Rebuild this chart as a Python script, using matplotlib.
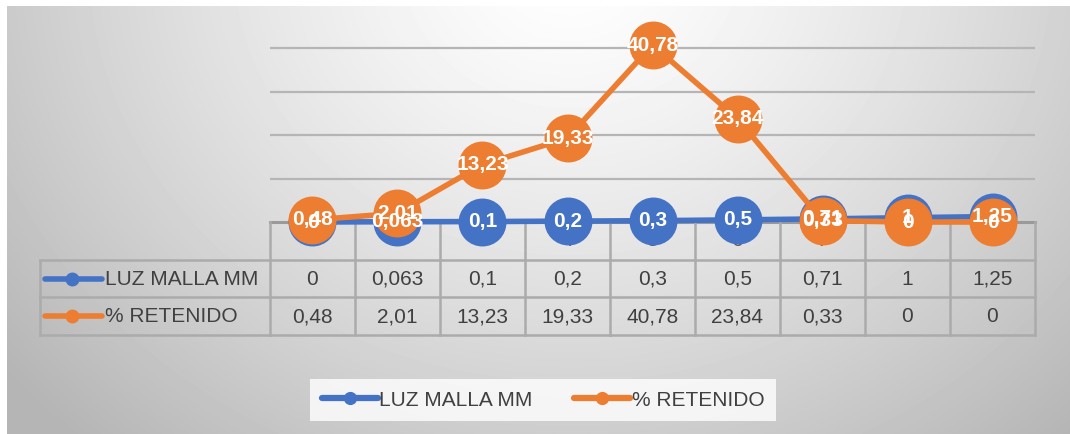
import matplotlib.pyplot as plt
import numpy as np
from matplotlib.lines import Line2D

categories = ['1', '2', '3', '4', '5', '6', '7', '8', '9']
luz_malla = [0, 0.063, 0.1, 0.2, 0.3, 0.5, 0.71, 1, 1.25]
retenido = [0.48, 2.01, 13.23, 19.33, 40.78, 23.84, 0.33, 0, 0]
series_names = ['LUZ MALLA MM', '% RETENIDO']
grid_values = [10, 20, 30, 40]

blue = '#4472C4'
orange = '#ED7D31'
text_color = '#404040'
line_gray = '#ababab'

W, H = 1070, 434
fig = plt.figure(figsize=(W / 100, H / 100), dpi=100)
fig.patch.set_facecolor('white')


def fx(px):
    return px / W


def fy(py):
    return 1 - py / H


def fmt(v):
    return f'{v:g}'.replace('.', ',')


# chart area background (radial gradient, white at top centre)
bg = fig.add_axes([fx(7), 0, 1 - fx(7), fy(6)])
yy, xx = np.mgrid[6:H, 7:W]
r = np.sqrt(((xx - 570) / 640.0) ** 2 + ((yy + 40) / 560.0) ** 2)
shade = 255 - 62 * np.clip(r, 0, 1.15) ** 1.3
bg.imshow(shade, cmap='gray', vmin=0, vmax=255, aspect='auto',
          interpolation='bilinear')
bg.axis('off')

# data table
tab = fig.add_axes([fx(40), fy(335), fx(995), 113 / H])
tab.set_xlim(-3.2, 8.5)
tab.set_ylim(3, 0)
tab.axis('off')
n = len(categories)
for yv in [1, 2, 3]:
    tab.plot([-3.2, n - 0.5], [yv, yv], color=line_gray, lw=1.8, clip_on=False)
tab.plot([-0.5, n - 0.5], [0, 0], color='#9a9a9a', lw=2.2, clip_on=False)
tab.plot([-3.2, -3.2], [1, 3], color=line_gray, lw=1.8, clip_on=False)
for k in range(n + 1):
    tab.plot([k - 0.5, k - 0.5], [0, 3], color=line_gray, lw=1.8, clip_on=False)

for i, c in enumerate(categories):
    tab.text(i, 0.5, c, ha='center', va='center', fontsize=15,
             color='#595959', family='Liberation Sans')
    tab.text(i, 1.52, fmt(luz_malla[i]), ha='center', va='center',
             fontsize=15, color=text_color, family='Liberation Sans')
    tab.text(i, 2.52, fmt(retenido[i]), ha='center', va='center',
             fontsize=15, color=text_color, family='Liberation Sans')

for row, (name, col) in enumerate(zip(series_names, [blue, orange])):
    yv = row + 1.5
    tab.plot([-3.14, -2.47], [yv, yv], color=col, lw=4, solid_capstyle='round')
    tab.plot([-2.82], [yv], 'o', color=col, ms=9)
    tab.text(-2.44, yv + 0.02, name, ha='left', va='center', fontsize=15,
             color=text_color, family='Liberation Sans')

# line chart
ax = fig.add_axes([fx(270), fy(222), fx(765), 217 / H])
ax.patch.set_alpha(0)
ax.set_xlim(-0.5, n - 0.5)
ax.set_ylim(0, 50)
for s in ax.spines.values():
    s.set_visible(False)
ax.set_xticks([])
ax.set_yticks([])
for g in grid_values:
    ax.axhline(g, color='#b5b5b5', lw=1.6, zorder=1)

x = np.arange(n)
ax.plot(x, luz_malla, color=blue, lw=4, marker='o', ms=33.5,
        markeredgecolor=blue, zorder=3, clip_on=False)
ax.plot(x, retenido, color=orange, lw=4, marker='o', ms=33.5,
        markeredgecolor=orange, zorder=4, clip_on=False)
for xi, v in zip(x, luz_malla):
    ax.text(xi, v, fmt(v), ha='center', va='center', color='white',
            fontsize=15, fontweight='bold', family='Liberation Sans',
            zorder=6, clip_on=False)
for xi, v in zip(x, retenido):
    ax.text(xi, v, fmt(v), ha='center', va='center', color='white',
            fontsize=15, fontweight='bold', family='Liberation Sans',
            zorder=6, clip_on=False)

# legend
handles = [Line2D([], [], color=blue, lw=4.5, marker='o', ms=8.5,
                  solid_capstyle='round'),
           Line2D([], [], color=orange, lw=4.5, marker='o', ms=8.5,
                  solid_capstyle='round')]
leg = fig.legend(handles, series_names, loc='center', ncol=2,
                 bbox_to_anchor=(fx(543), fy(400)), frameon=True,
                 fancybox=False, handlelength=2.7,
                 handletextpad=0.05, columnspacing=2.0, borderpad=0.55,
                 prop={'family': 'Liberation Sans', 'size': 15})
leg.get_frame().set_facecolor((1, 1, 1, 0.3))
leg.get_frame().set_edgecolor('none')
for t in leg.get_texts():
    t.set_color(text_color)

fig.savefig('out.png', dpi=100)
